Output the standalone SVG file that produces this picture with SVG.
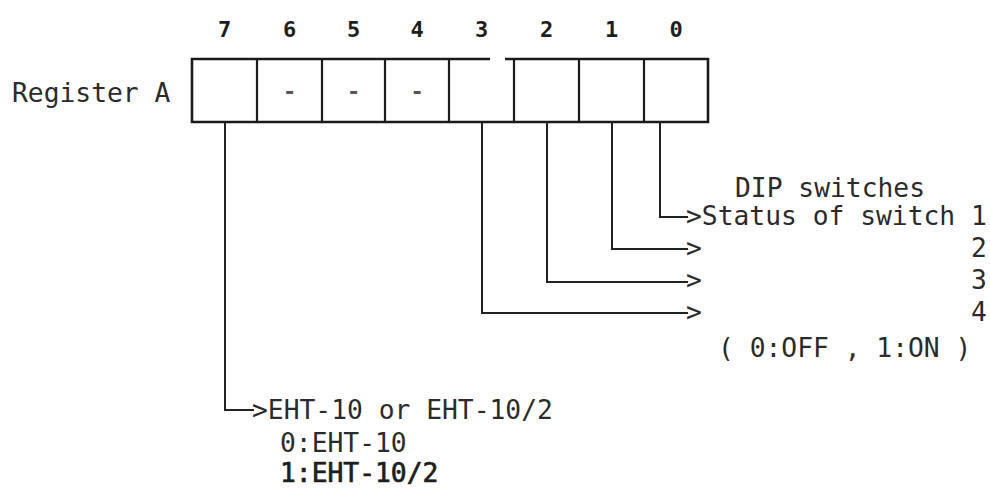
<svg xmlns="http://www.w3.org/2000/svg" width="990" height="491" viewBox="0 0 990 491">
  <style>
    .t { font-family: "DejaVu Sans Mono", "Liberation Mono", monospace; font-size: 26.3px; fill: #2b2b2b; }
    .bit { font-family: "DejaVu Sans Mono", "Liberation Mono", monospace; font-size: 22px; font-weight: bold; fill: #1e1e1e; text-anchor: middle; }
    .dash { font-family: "DejaVu Sans Mono", "Liberation Mono", monospace; font-size: 22px; font-weight: bold; fill: #555; text-anchor: middle; }
    .heavy { stroke: #1e1e1e; stroke-width: 0.7; fill: #1e1e1e; }
    .box { fill: none; stroke: #1a1a1a; stroke-width: 2.6; }
    .cell { stroke: #1a1a1a; stroke-width: 2.2; }
    .wire { fill: none; stroke: #222; stroke-width: 2; }
  </style>
  <rect width="990" height="491" fill="#ffffff"/>

  <!-- bit numbers above the register -->
  <g id="bit-labels">
    <text class="bit" x="224.5" y="37">7</text>
    <text class="bit" x="289.5" y="37">6</text>
    <text class="bit" x="353.5" y="37">5</text>
    <text class="bit" x="417" y="37">4</text>
    <text class="bit" x="481.5" y="37">3</text>
    <text class="bit" x="546.5" y="37">2</text>
    <text class="bit" x="611.5" y="37">1</text>
    <text class="bit" x="676" y="37">0</text>
  </g>

  <g id="register-label">
    <text class="t" x="12" y="102">Register A</text>
  </g>

  <!-- the 8-bit register -->
  <g id="register-a">
    <path class="box" d="M490 59 H192 V122 H708 V59 H505"/>
    <line class="cell" x1="257" y1="59" x2="257" y2="122"/>
    <line class="cell" x1="322" y1="59" x2="322" y2="122"/>
    <line class="cell" x1="385" y1="59" x2="385" y2="122"/>
    <line class="cell" x1="449" y1="59" x2="449" y2="122"/>
    <line class="cell" x1="514" y1="59" x2="514" y2="122"/>
    <line class="cell" x1="579" y1="59" x2="579" y2="122"/>
    <line class="cell" x1="644" y1="59" x2="644" y2="122"/>
    <text class="dash" x="289.5" y="99">-</text>
    <text class="dash" x="353.5" y="99">-</text>
    <text class="dash" x="417" y="99">-</text>
  </g>

  <!-- leader lines from the bits -->
  <g id="connectors">
    <path class="wire" d="M225 122 V410 H254"/>
    <path class="wire" d="M482 122 V313 H688"/>
    <path class="wire" d="M547 122 V282 H688"/>
    <path class="wire" d="M612 122 V249 H688"/>
    <path class="wire" d="M660 122 V217 H688"/>
  </g>

  <!-- DIP switch description -->
  <g id="dip-switches">
    <text class="t" x="735" y="197">DIP switches</text>
    <text class="t" x="686" y="225">&gt;Status of switch 1</text>
    <text class="t" x="686" y="257">&gt;</text>
    <text class="t" x="971" y="257">2</text>
    <text class="t" x="686" y="289">&gt;</text>
    <text class="t" x="971" y="289">3</text>
    <text class="t" x="686" y="321">&gt;</text>
    <text class="t" x="971" y="321">4</text>
    <text class="t" x="718" y="357">( 0:OFF , 1:ON )</text>
  </g>

  <!-- EHT model select -->
  <g id="eht-select">
    <text class="t" x="252" y="419">&gt;EHT-10 or EHT-10/2</text>
    <text class="t" x="280" y="452">0:EHT-10</text>
    <text class="t heavy" x="280" y="482">1:EHT-10/2</text>
  </g>
</svg>
